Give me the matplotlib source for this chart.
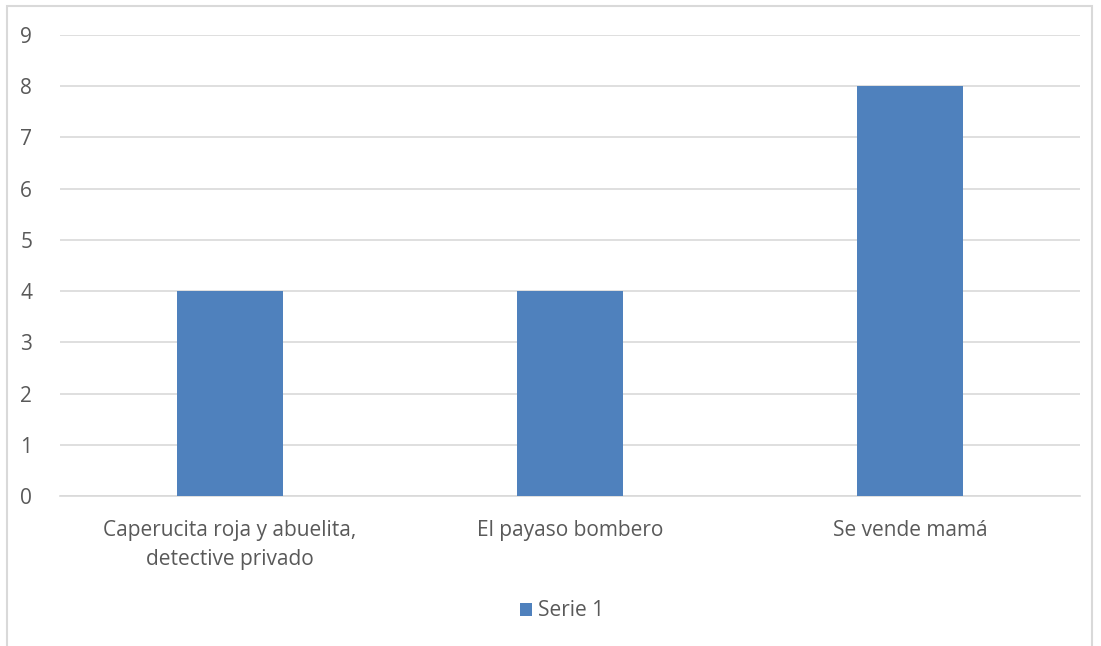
import matplotlib
matplotlib.use("Agg")
import matplotlib.pyplot as plt
from matplotlib.patches import Rectangle

# Data
categories = ["Caperucita roja y abuelita,\ndetective privado", "El payaso bombero", "Se vende mamá"]
values = [4, 4, 8]
series_name = "Serie 1"
yticks = list(range(0, 10))

BAR_COLOR = "#4f81bd"
TEXT_COLOR = "#595959"
GRID_COLOR = "#d9d9d9"

plt.rcParams['font.family'] = ['Open Sans', 'DejaVu Sans']

fig = plt.figure(figsize=(11.01, 6.46), dpi=100)
ax = fig.add_axes([60 / 1101, 1 - 496 / 646, 1020 / 1101, (496 - 35) / 646])

x = range(len(categories))
ax.bar(x, values, width=0.313, color=BAR_COLOR, label=series_name, zorder=3)

ax.set_xlim(-0.5, len(categories) - 0.5)
ax.set_ylim(0, 9)
ax.set_yticks(yticks)
ax.set_xticks(list(x))
ax.set_xticklabels(categories, fontsize=15, color=TEXT_COLOR, linespacing=1.55)
ax.tick_params(axis='y', labelsize=15, labelcolor=TEXT_COLOR, length=0, pad=20)
ax.tick_params(axis='x', length=0, pad=17)
ax.grid(True, axis='y', color=GRID_COLOR, linewidth=1.2, zorder=0)
for side in ['top', 'right', 'left']:
    ax.spines[side].set_visible(False)
ax.spines['bottom'].set_color(GRID_COLOR)
ax.spines['bottom'].set_linewidth(1.2)

leg = fig.legend(loc='center', bbox_to_anchor=(562 / 1101, 1 - 611 / 646), frameon=False,
                 fontsize=15, handlelength=0.6, handleheight=0.6, handletextpad=0.3)
for t in leg.get_texts():
    t.set_color(TEXT_COLOR)

# Outer chart frame
fig.patches.append(Rectangle((7 / 1101, -0.05), 1085 / 1101, 1.05 - 6 / 646,
                             transform=fig.transFigure, fill=False,
                             edgecolor=GRID_COLOR, linewidth=1.5))

fig.savefig("out.png", dpi=100)
